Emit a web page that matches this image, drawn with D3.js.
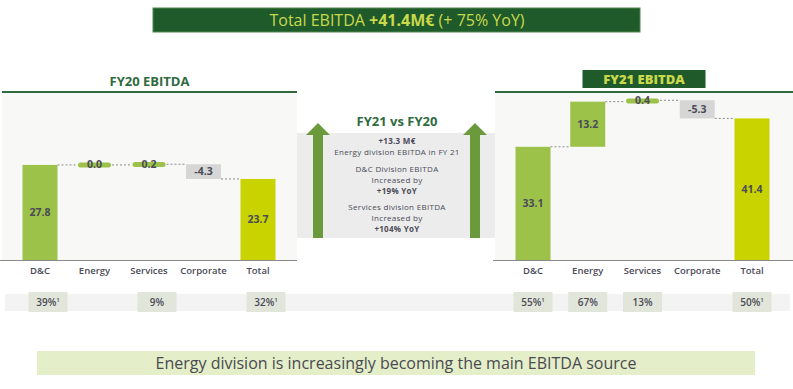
<!DOCTYPE html>
<html>
<head>
<meta charset="utf-8">
<script src="https://cdn.jsdelivr.net/npm/d3@7"></script>
<style>
  body { margin: 0; background: #fff; }
  svg { display: block; font-family: "Open Sans", Lato, sans-serif; }
</style>
</head>
<body>
<div id="chart"></div>
<script>
// data
var categories = ['D&C', 'Energy', 'Services', 'Corporate', 'Total']
var fy20 = [27.8, 0.0, 0.2, -4.3, 23.7]
var fy21 = [33.1, 13.2, 0.4, -5.3, 41.4]
var fy20Margin = ['39%', '', '9%', '', '32%']
var fy21Margin = ['55%', '67%', '13%', '', '50%']
var marginNote = [true, false, false, false, true]
var middleLines = [
  ['+13.3 M€', true], ['Energy division EBITDA in FY 21', false],
  ['D&C Division EBITDA', false], ['Increased by', false], ['+19% YoY', true],
  ['Services division EBITDA', false], ['Increased by', false], ['+104% YoY', true]
]

var W = 793, H = 389
var darkGreen = '#1f5a2b', lime = '#c9d94b', barGreen = '#9cc24a', totalYellow = '#c8d300'
var txt = '#4b4b57'

var svg = d3.select('#chart').append('svg').attr('width', W).attr('height', H)

// top banner
svg.append('rect').attr('x', 153).attr('y', 8).attr('width', 487).attr('height', 24)
  .attr('fill', darkGreen).attr('stroke', '#4f8a4a').attr('stroke-width', 1)
var banner = svg.append('text').attr('x', 397).attr('y', 25.5).attr('text-anchor', 'middle')
  .attr('fill', lime).attr('font-size', 16)
banner.append('tspan').text('Total EBITDA ')
banner.append('tspan').attr('font-weight', 700).text('+41.4M€')
banner.append('tspan').text(' (+ 75% YoY)')

var y = d3.scaleLinear().domain([0, 50]).range([260, 89])

// percentage band
svg.append('rect').attr('x', 5).attr('y', 294).attr('width', 785).attr('height', 17).attr('fill', '#f3f3f3')

// middle box
svg.append('rect').attr('x', 289).attr('y', 133).attr('width', 216).attr('height', 105).attr('fill', '#ececec')

function panel(x0, x1, vals, margins, title, boxed, pctShift, centers) {
  var g = svg.append('g')
  g.append('rect').attr('x', x0).attr('y', 92).attr('width', x1 - x0).attr('height', 168).attr('fill', '#f8f8f6')
  g.append('line').attr('x1', x0).attr('x2', x1).attr('y1', 92).attr('y2', 92)
    .attr('stroke', '#2f6b3e').attr('stroke-width', 2)
  g.append('line').attr('x1', x0 - 2).attr('x2', x1).attr('y1', 260.5).attr('y2', 260.5)
    .attr('stroke', '#8a8a8a').attr('stroke-width', 1)

  var tx = (x0 + x1) / 2
  if (boxed) {
    g.append('rect').attr('x', tx - 61.5).attr('y', 70).attr('width', 123).attr('height', 18).attr('fill', darkGreen)
    g.append('text').attr('x', tx).attr('y', 84).attr('text-anchor', 'middle').attr('fill', lime)
      .attr('font-size', 13).attr('font-weight', 800).text(title)
  } else {
    g.append('text').attr('x', tx).attr('y', 86).attr('text-anchor', 'middle').attr('fill', '#2f6b3e')
      .attr('font-size', 13).attr('font-weight', 700).text(title)
  }

  var x = d3.scalePoint().domain(categories).range(centers)
  var bw = 35

  // waterfall steps
  var run = 0
  var steps = vals.map(function (v, i) {
    var s
    if (i === vals.length - 1) s = { a: 0, b: v }
    else { s = { a: run, b: run + v }; run += v }
    s.v = v; s.c = categories[i]; s.i = i
    return s
  })

  // connectors
  steps.forEach(function (s, i) {
    if (i === steps.length - 1) return
    var end = s.b
    var cx = x(s.c)
    g.append('line').attr('x1', cx + bw / 2).attr('x2', x(categories[i + 1]) - bw / 2)
      .attr('y1', y(end)).attr('y2', y(end))
      .attr('stroke', '#8c8c8c').attr('stroke-dasharray', '2,2').attr('stroke-width', 1)
  })

  steps.forEach(function (s) {
    var cx = x(s.c)
    var top = y(Math.max(s.a, s.b)), bot = y(Math.min(s.a, s.b))
    var h = bot - top
    var col = s.c === 'Total' ? totalYellow : (s.v < 0 ? '#d6d6d6' : barGreen)
    if (h < 4) {
      var mid = (top + bot) / 2
      g.append('rect').attr('x', cx - bw / 2 + 1).attr('y', mid - 2.5).attr('width', bw - 2).attr('height', 5)
        .attr('rx', 2.5).attr('fill', barGreen)
      g.append('text').attr('x', cx).attr('y', mid + 3).attr('text-anchor', 'middle')
        .attr('fill', txt).attr('font-size', 10.5).attr('font-weight', 700).text(d3.format('.1f')(s.v))
    } else {
      g.append('rect').attr('x', cx - bw / 2).attr('y', top).attr('width', bw).attr('height', h).attr('fill', col)
      g.append('text').attr('x', cx).attr('y', (top + bot) / 2 + 3.5).attr('text-anchor', 'middle')
        .attr('fill', txt).attr('font-size', 10.5).attr('font-weight', 700)
        .text(s.v < 0 ? '-' + d3.format('.1f')(-s.v) : d3.format('.1f')(s.v))
    }
    g.append('text').attr('x', cx).attr('y', 274).attr('text-anchor', 'middle')
      .attr('fill', txt).attr('font-size', 9.5).attr('font-weight', 600).text(s.c)

    var m = margins[s.i]
    if (m) {
      var px = cx + pctShift
      g.append('rect').attr('x', px - 19.5).attr('y', 292).attr('width', 39).attr('height', 20).attr('fill', '#e2e6da')
      var t = g.append('text').attr('x', px).attr('y', 305.5).attr('text-anchor', 'middle')
        .attr('fill', txt).attr('font-size', 10).attr('font-weight', 600)
      t.append('tspan').text(m)
      if (marginNote[s.i]) t.append('tspan').attr('font-size', 6).attr('dy', -4).text('1')
    }
  })
}

panel(2, 297, fy20, fy20Margin, 'FY20 EBITDA', false, 8, [40, 258])
panel(495, 793, fy21, fy21Margin, 'FY21 EBITDA', true, 0, [533, 752])

// arrows
;[318, 475].forEach(function (ax) {
  svg.append('path')
    .attr('d', 'M' + (ax - 5) + ',238 L' + (ax - 5) + ',135 L' + (ax - 12) + ',135 L' + ax + ',123 L' + (ax + 12) + ',135 L' + (ax + 5) + ',135 L' + (ax + 5) + ',238 Z')
    .attr('fill', '#6b9a3c')
})

svg.append('text').attr('x', 397).attr('y', 126).attr('text-anchor', 'middle')
  .attr('fill', '#2f6b3e').attr('font-size', 13).attr('font-weight', 700).text('FY21 vs FY20')
var ly = [141, 152, 169, 180, 191, 207, 218, 229]
middleLines.forEach(function (l, i) {
  svg.append('text').attr('x', 397).attr('y', ly[i] + 3).attr('text-anchor', 'middle')
    .attr('fill', txt).attr('font-size', 8).attr('font-weight', l[1] ? 700 : 400)
    .attr('letter-spacing', 0.3).text(l[0])
})

// bottom banner
svg.append('rect').attr('x', 37).attr('y', 351).attr('width', 718).attr('height', 24).attr('fill', '#e4eec8')
svg.append('text').attr('x', 396).attr('y', 368.5).attr('text-anchor', 'middle')
  .attr('fill', '#4a4a52').attr('font-size', 16).text('Energy division is increasingly becoming the main EBITDA source')
</script>
</body>
</html>
